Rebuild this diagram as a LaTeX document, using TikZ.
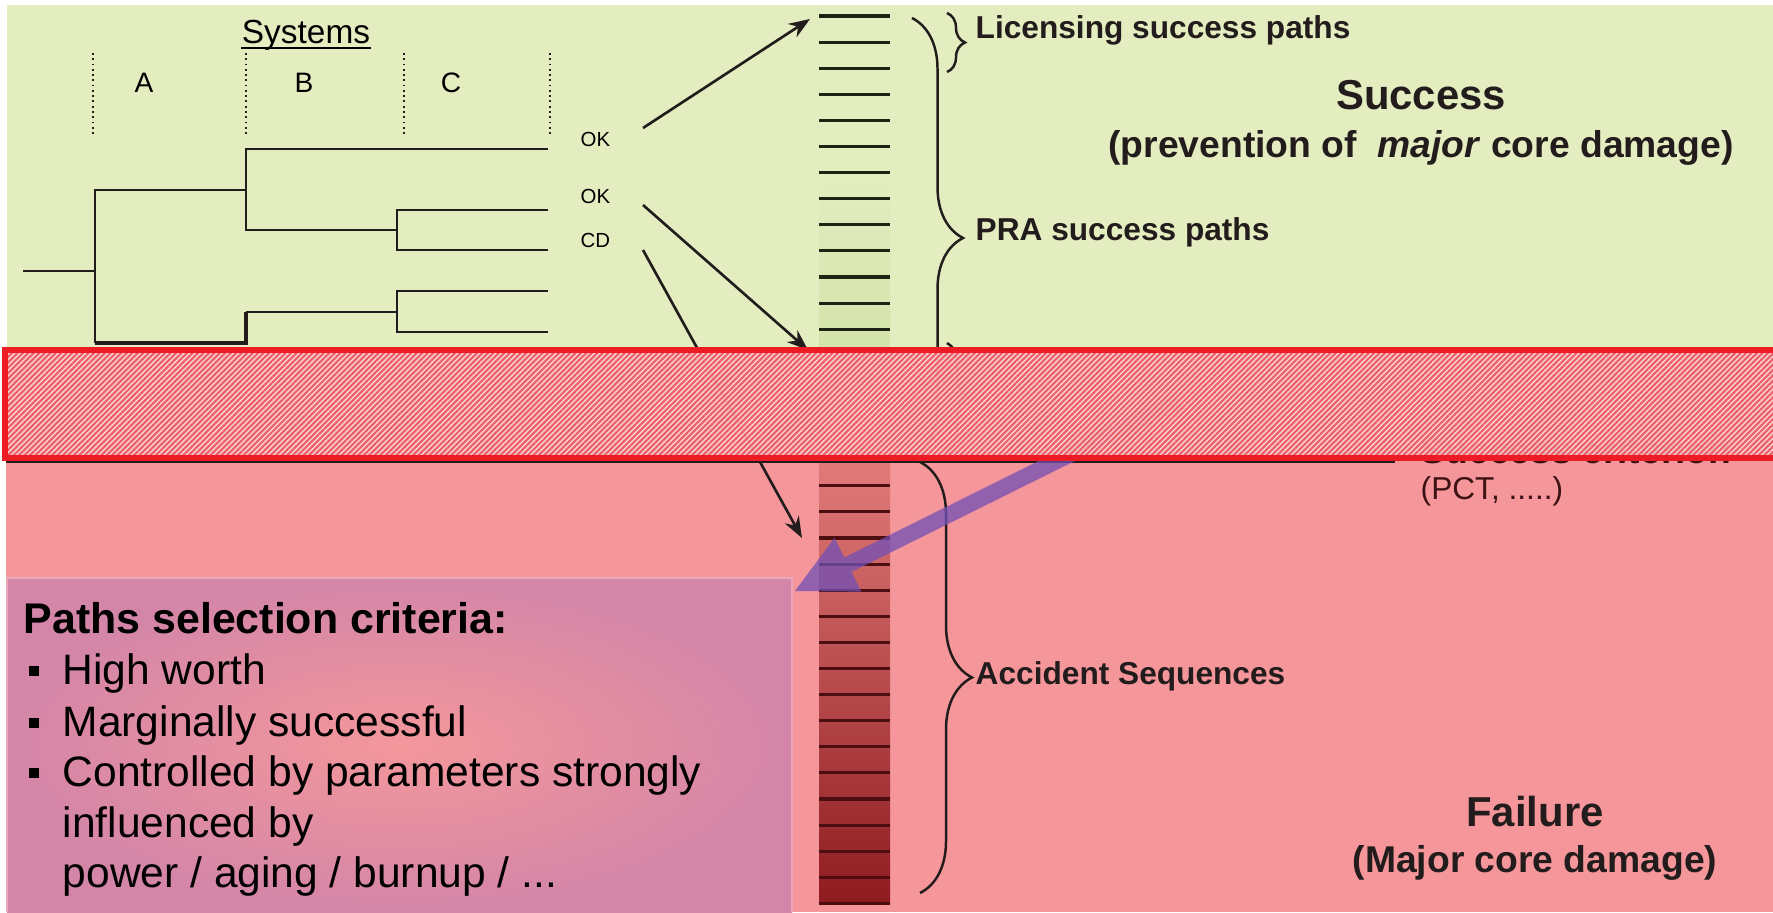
\documentclass[tikz,border=0pt]{standalone}
\usepackage{fontspec}
\setmainfont{Liberation Sans}
\usepackage{tikz}
\usetikzlibrary{positioning,arrows.meta,decorations.pathreplacing,patterns.meta}
\definecolor{successbg}{RGB}{228,237,192}
\definecolor{failbg}{RGB}{244,150,154}
\definecolor{bandred}{RGB}{237,28,36}
\definecolor{bandstripe}{RGB}{236,96,104}
\definecolor{bandgap}{RGB}{252,214,216}
\definecolor{boxmid}{RGB}{243,151,155}
\definecolor{boxedge}{RGB}{212,134,168}
\definecolor{boxline}{RGB}{232,168,184}
\definecolor{bartop}{RGB}{225,123,121}
\definecolor{barbottom}{RGB}{142,27,32}
\definecolor{bargreen}{RGB}{211,226,170}
\definecolor{rowgreen}{RGB}{30,36,20}
\definecolor{rowred}{RGB}{76,14,16}
\definecolor{critpurple}{RGB}{112,80,182}
\definecolor{inkdark}{RGB}{35,28,28}
\definecolor{inkred}{RGB}{60,18,20}
\tikzset{%
  tree/.style={line width=0.7pt, inkdark},% event tree branches
  sysline/.style={densely dotted, line width=0.5pt, inkdark},% system columns
  syslabel/.style={anchor=base, inner sep=0pt, font=\fontsize{8}{10}\selectfont},
  outcome/.style={anchor=base west, inner sep=0pt, font=\fontsize{5.8}{7}\selectfont},
  pathline/.style={-{Stealth[length=6pt,width=4.5pt]}, line width=0.75pt, inkdark},
  rowline/.style={line width=0.9pt},% one sequence in the bar
  pathbrace/.style={decorate, line width=0.7pt, inkdark},
  pathlabel/.style={anchor=base west, inner sep=0pt, text=inkdark,
    font=\fontsize{9}{11}\selectfont\bfseries},
  heading/.style={anchor=base, inner sep=0pt, text=inkdark,
    font=\fontsize{11.9}{14}\selectfont\bfseries},
  subheading/.style={anchor=base, inner sep=0pt, text=inkdark,
    font=\fontsize{10.6}{13}\selectfont\bfseries},
  criteria/.style={anchor=base west, inner sep=0pt, text=black,
    font=\fontsize{12.1}{14.5}\selectfont},
  sqbullet/.style={fill=black, minimum size=3pt, inner sep=0pt}
}

\begin{document}
\begin{tikzpicture}[x=0.01cm, y=-0.01cm]
\useasboundingbox (0,0) rectangle (1773,912);
\clip (0,0) rectangle (1773,912);

% success / failure areas
\fill[successbg] (7,5) rectangle (1773,352);
\fill[failbg] (6,452) rectangle (1773,912);

% selection criteria box
\shade[inner color=boxmid, outer color=boxedge] (7,578) rectangle (792,912);
\draw[boxline, line width=0.5pt] (7,912) -- (7,578) -- (792,578) -- (792,912);

% sequence bar
\shade[top color=successbg, bottom color=bargreen] (819,170) rectangle (890,352);
\shade[top color=bartop, bottom color=barbottom] (819,459) rectangle (890,904);
\foreach \i in {0,...,12}
  \draw[rowline, rowgreen] (819,{16+26.1*\i}) -- (890,{16+26.1*\i});
\foreach \i in {18,...,34}
  \draw[rowline, rowred] (819,{16+26.1*\i}) -- (890,{16+26.1*\i});

% event tree
\node[anchor=base, inner sep=0pt, font=\fontsize{9.5}{11}\selectfont] (systems) at (306,43) {Systems};
\draw[line width=0.6pt] ([yshift=-1.4pt]systems.base west) -- ([yshift=-1.4pt]systems.base east);
\foreach \x in {93,246,404,550}
  \draw[sysline] (\x,53) -- (\x,135);
\node[syslabel] (sysA) at (144,92) {A};
\node[syslabel] (sysB) at (304,92) {B};
\node[syslabel] (sysC) at (451,92) {C};

\draw[tree] (23,271) -- (95,271);
\draw[tree] (246,190) -| (95,343);
\draw[tree] (548,149) -| (246,230) -- (397,230);
\draw[tree] (548,210) -| (397,250) -- (548,250);
\draw[tree, line width=1.2pt] (95,343) -- (246,343) -- (246,312);
\draw[tree] (246,312) -- (397,312);
\draw[tree] (548,291) -| (397,332) -- (548,332);

\node[outcome] (ok1) at (580,146) {OK};
\node[outcome] (ok2) at (580,203) {OK};
\node[outcome] (cd) at (580,247) {CD};

\coordinate (ok1out) at (643,128);
\coordinate (ok2out) at (643,205);
\coordinate (cdout) at (643,250);
\coordinate (licrow) at (810,19);
\coordinate (prarow) at (808,350);
\coordinate (accrow) at (802,538);
\draw[pathline] (ok1out) -- (licrow);
\draw[pathline] (ok2out) -- (prarow);
\draw[pathline] (cdout) -- (accrow);

% braces
\draw[pathbrace, decoration={brace, amplitude=0.18cm}] (947,13) -- (947,72);
\draw[pathbrace, decoration={brace, amplitude=0.51cm}] (912,18) -- (912,458);
\draw[pathbrace, decoration={brace, amplitude=0.2cm}] (947,343) -- (947,450);
\draw[pathbrace, decoration={brace, amplitude=0.52cm}] (920,462) -- (920,893);

\node[pathlabel] (licensing) at (975,38) {Licensing success paths};
\node[pathlabel] (pra) at (975,240) {PRA success paths};
\node[pathlabel] (accident) at (975,684) {Accident Sequences};

\node[heading] (success) at (1421,109) {Success};
\node[subheading] (successsub) at (1421,157) {(prevention of \ \textit{major} core damage)};
\node[heading] (failure) at (1535,826) {Failure};
\node[subheading] (failuresub) at (1535,872) {(Major core damage)};

\node[anchor=base west, inner sep=0pt, text=inkred, font=\fontsize{10.6}{13}\selectfont\bfseries] (crit) at (1420,463) {Success criterion};
\node[anchor=base west, inner sep=0pt, text=inkred, font=\fontsize{9}{11}\selectfont] (pct) at (1420,499) {(PCT, .....)};
\draw[line width=0.5pt, inkdark] (6,462) -- (1395,462);

% criteria text
\node[criteria, font=\fontsize{12.2}{14.5}\selectfont\bfseries] (crittitle) at (23,633) {Paths selection criteria:};
\node[sqbullet] (bul1) at (34,671) {};
\node[sqbullet] (bul2) at (34,723) {};
\node[sqbullet] (bul3) at (34,773) {};
\node[criteria] (crit1) at (62,684) {High worth};
\node[criteria] (crit2) at (62,736) {Marginally successful};
\node[criteria] (crit3) at (62,786) {Controlled by parameters strongly};
\node[criteria] (crit3b) at (62,837) {influenced by};
\node[criteria] (crit3c) at (62,887) {power / aging / burnup / ...};

% pointer to the selected sequences
\fill[critpurple, fill opacity=0.75] (795,591) -- (861.3,591.6) -- (851.5,571.9)
  -- (1183.1,407.2) -- (1175.9,392.8) -- (844.3,557.5) -- (834.5,537.8) -- cycle;

% uncertainty band
\fill[bandgap, opacity=0.94] (5,350) rectangle (1800,458);
\fill[pattern={Lines[angle=45,distance=1.1pt,line width=0.65pt]}, pattern color=bandstripe]
  (5,350) rectangle (1800,458);
\draw[bandred, line width=1.8pt] (5,350) rectangle (1800,458);
\end{tikzpicture}
\end{document}
